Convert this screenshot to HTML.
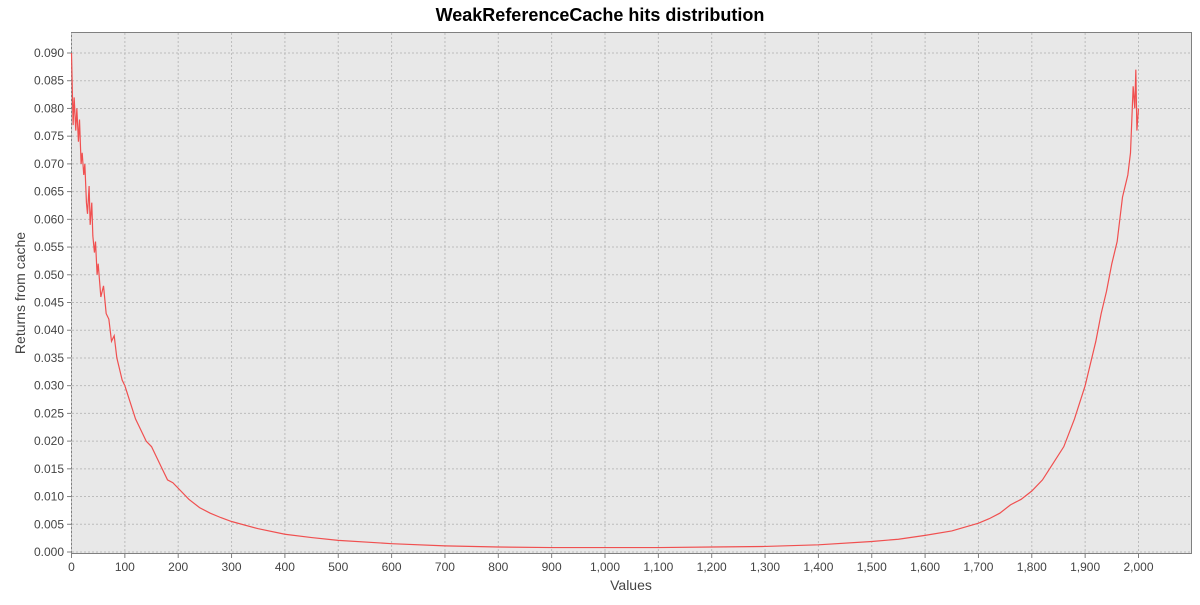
<!DOCTYPE html>
<html><head><meta charset="utf-8"><style>
body{margin:0;background:#fff;width:1200px;height:600px;overflow:hidden;font-family:"Liberation Sans",sans-serif}
</style></head><body>
<svg id="chart" width="1200" height="600" xmlns="http://www.w3.org/2000/svg">
<text x="600" y="21" text-anchor="middle" font-family="Liberation Sans, sans-serif" font-weight="bold" font-size="18" fill="#000">WeakReferenceCache hits distribution</text>
<rect x="71.5" y="32.5" width="1120" height="521" fill="#e8e8e8" stroke="#808080"/>
<g id="grid"></g><g id="ticks"></g>
<text x="631" y="590" text-anchor="middle" font-size="14" fill="#444">Values</text>
<text transform="translate(25,293) rotate(-90)" text-anchor="middle" font-size="14" fill="#444">Returns from cache</text>
<g id="series"></g>
</svg>
<script>
const xTicks=[0,100,200,300,400,500,600,700,800,900,1000,1100,1200,1300,1400,1500,1600,1700,1800,1900,2000];
const yTicks=[0,0.005,0.01,0.015,0.02,0.025,0.03,0.035,0.04,0.045,0.05,0.055,0.06,0.065,0.07,0.075,0.08,0.085,0.09];
const xs=[0,3,5,8,10,13,15,18,20,23,25,28,30,33,35,38,40,43,45,48,50,55,60,65,70,75,80,85,90,95,100,110,120,130,140,150,160,170,180,190,200,220,240,260,280,300,350,400,450,500,600,700,800,900,1000,1100,1200,1300,1400,1500,1550,1600,1650,1700,1720,1740,1760,1780,1800,1820,1840,1860,1880,1900,1910,1920,1930,1940,1950,1960,1965,1970,1975,1980,1985,1990,1993,1995,1997,2000];
const ys=[0.090,0.077,0.082,0.076,0.080,0.074,0.078,0.070,0.072,0.068,0.070,0.063,0.061,0.066,0.059,0.063,0.057,0.054,0.056,0.050,0.052,0.046,0.048,0.043,0.042,0.038,0.039,0.035,0.033,0.031,0.030,0.027,0.024,0.022,0.020,0.019,0.017,0.015,0.013,0.0125,0.0115,0.0095,0.008,0.007,0.0062,0.0055,0.0042,0.0032,0.0026,0.0021,0.0015,0.0011,0.0009,0.0008,0.0008,0.0008,0.0009,0.001,0.0013,0.0019,0.0023,0.003,0.0038,0.0052,0.006,0.007,0.0085,0.0095,0.011,0.013,0.016,0.019,0.024,0.03,0.034,0.038,0.043,0.047,0.052,0.056,0.06,0.064,0.066,0.068,0.072,0.084,0.08,0.087,0.076,0.08];
const NS="http://www.w3.org/2000/svg";
const X=v=>71.5+v*(1067/2000);
const Y=v=>552-v*(499/0.09);
const grid=document.getElementById('grid'),ticks=document.getElementById('ticks'),series=document.getElementById('series');
function mk(t,a,p){const e=document.createElementNS(NS,t);for(const k in a)e.setAttribute(k,a[k]);p.appendChild(e);return e;}
xTicks.forEach(v=>{
 const l=mk('line',{x1:X(v),x2:X(v),y1:33,y2:553,stroke:'#bcbcbc','stroke-dasharray':'2,2'},grid);
 
 
 mk('line',{x1:X(v),x2:X(v),y1:554,y2:558,stroke:'#808080'},ticks);
 const t=mk('text',{x:X(v),y:571,'text-anchor':'middle','font-size':'12',fill:'#444'},ticks);
 t.textContent=v.toLocaleString('en-US');
 
 
});
yTicks.forEach(v=>{
 const l=mk('line',{x1:72,x2:1191,y1:Y(v),y2:Y(v),stroke:'#bcbcbc','stroke-dasharray':'2,2'},grid);
 
 
 mk('line',{x1:67,x2:71,y1:Y(v),y2:Y(v),stroke:'#808080'},ticks);
 const t=mk('text',{x:64,y:Y(v)+4,'text-anchor':'end','font-size':'12',fill:'#444'},ticks);
 t.textContent=v.toFixed(3);
 
 
});
const pl=mk('polyline',{points:xs.map((x,i)=>X(x)+','+Y(ys[i])).join(' '),fill:'none',stroke:'#f05050','stroke-width':'1.2'},series);


</script>
</body></html>
